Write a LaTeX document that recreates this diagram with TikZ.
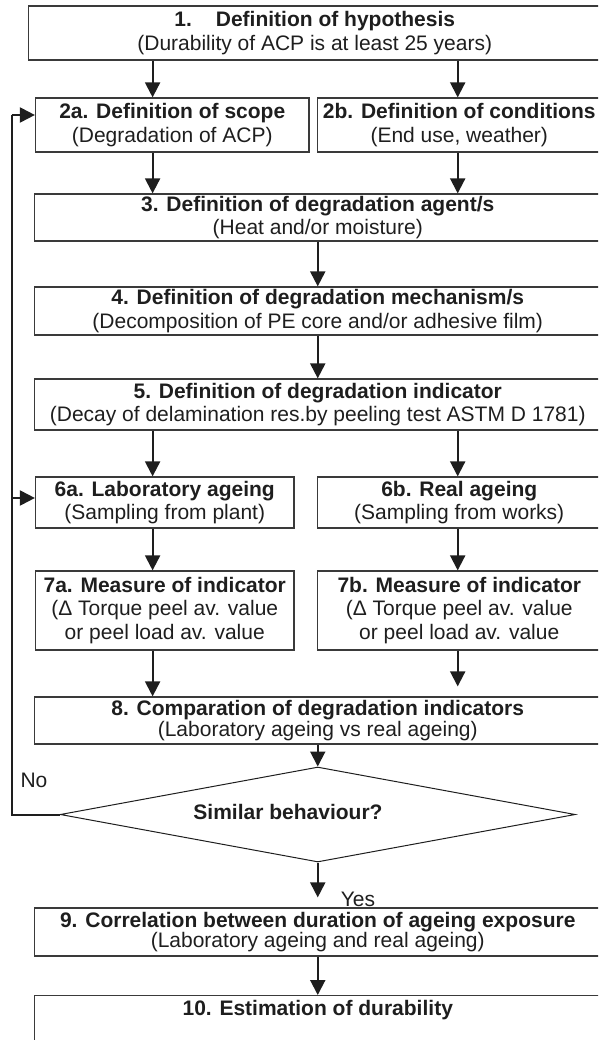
\documentclass[tikz,border=0pt]{standalone}
\usepackage{fontspec}
\setmainfont{Liberation Sans}
\usetikzlibrary{arrows.meta,shapes.geometric}
\definecolor{ink}{HTML}{1E1E1E}
\definecolor{rule}{HTML}{3A3A3A}
\begin{document}
\begin{tikzpicture}[x=1pt,y=-1pt,
  box/.style={draw=rule, line width=1.2pt, rectangle, inner sep=0pt, align=center,
    text=ink, font=\fontsize{21}{23.5}\selectfont},
  tight/.style={font=\fontsize{21}{18.5}\selectfont},
  flow/.style={draw=ink, line width=2pt, -{Triangle[width=15pt,length=15pt]}},
  wire/.style={draw=ink, line width=2pt},
  lbl/.style={text=ink, inner sep=0pt, font=\fontsize{21}{23.5}\selectfont}]
\useasboundingbox (0,0) rectangle (598,1040);
\clip (0,0) rectangle (598,1040);

% column positions of the vertical connectors
\coordinate (colL) at (152.6,0);
\coordinate (colM) at (317.75,0);
\coordinate (colR) at (457.7,0);
\coordinate (lp) at (11.5,0);

% process boxes
\node[box, minimum width=572.5pt, minimum height=54pt] (b1) at (314.75,33)
  {\textbf{1.\hspace{24pt}Definition of hypothesis}\\(Durability of ACP is at least 25 years)};
\node[box, minimum width=273.5pt, minimum height=54pt] (b2a) at (172.25,125)
  {\textbf{2a. Definition of scope}\\(Degradation of ACP)};
\node[box, minimum width=283.5pt, minimum height=54pt] (b2b) at (459.25,125)
  {\textbf{2b. Definition of conditions}\\(End use, weather)};
\node[box, minimum width=566.5pt, minimum height=47pt] (b3) at (317.75,217.5)
  {\textbf{3. Definition of degradation agent/s}\\(Heat and/or moisture)};
\node[box, minimum width=566.5pt, minimum height=48pt] (b4) at (317.75,311)
  {\textbf{4. Definition of degradation mechanism/s}\\(Decomposition of PE core and/or adhesive film)};
\node[box, minimum width=566.5pt, minimum height=51pt] (b5) at (317.75,404.5)
  {\textbf{5. Definition of degradation indicator}\\(Decay of delamination res.by peeling test ASTM D 1781)};
\node[box, minimum width=258.5pt, minimum height=51pt] (b6a) at (164.75,502.5)
  {\textbf{6a. Laboratory ageing}\\(Sampling from plant)};
\node[box, minimum width=283.5pt, minimum height=51pt] (b6b) at (459.25,502.5)
  {\textbf{6b. Real ageing}\\(Sampling from works)};
\node[box, minimum width=258.5pt, minimum height=79pt] (b7a) at (164.75,610.5)
  {\textbf{7a. Measure of indicator}\\(Δ Torque peel av. value\\or peel load av. value};
\node[box, minimum width=283.5pt, minimum height=79pt] (b7b) at (459.25,610.5)
  {\textbf{7b. Measure of indicator}\\(Δ Torque peel av. value\\or peel load av. value};
\node[box, tight, minimum width=566.5pt, minimum height=47pt] (b8) at (317.75,720.5)
  {\textbf{8. Comparation of degradation indicators}\\(Laboratory ageing vs real ageing)};
\node[draw=ink, line width=1pt, diamond, aspect=5.42, inner sep=0pt,
  minimum width=515pt, minimum height=95pt] (dia) at (317.75,814.5) {};
\node[lbl, font=\bfseries\fontsize{21}{23.5}\selectfont] (q) at (288,812) {Similar behaviour?};
\node[box, tight, minimum width=566.5pt, minimum height=48pt] (b9) at (317.75,932)
  {\textbf{9. Correlation between duration of ageing exposure}\\(Laboratory ageing and real ageing)};
\node[box, anchor=north, minimum width=566.5pt, minimum height=70pt] (b10) at (317.75,995) {};
\node[lbl, font=\bfseries\fontsize{21}{23.5}\selectfont] (t10) at (317.75,1010)
  {10. Estimation of durability};

% branch labels
\node[lbl] (no) at (34,780) {No};
\node[lbl] (yes) at (358,899) {Yes};

% connectors
\draw[flow] (b1.south -| colL) -- (b2a.north -| colL);
\draw[flow] (b1.south -| colR) -- (b2b.north -| colR);
\draw[flow] (b2a.south -| colL) -- (b3.north -| colL);
\draw[flow] (b2b.south -| colR) -- (b3.north -| colR);
\draw[flow] (b3.south -| colM) -- (b4.north -| colM);
\draw[flow] (b4.south -| colM) -- (b5.north -| colM);
\draw[flow] (b5.south -| colL) -- (b6a.north -| colL);
\draw[flow] (b5.south -| colR) -- (b6b.north -| colR);
\draw[flow] (b6a.south -| colL) -- (b7a.north -| colL);
\draw[flow] (b6b.south -| colR) -- (b7b.north -| colR);
\draw[flow] (b7a.south -| colL) -- (b8.north -| colL);
\draw[flow, shorten >=10pt] (b7b.south -| colR) -- (b8.north -| colR);
\draw[flow] (b8.south) -- (dia.north);
\draw[flow, shorten >=10pt] (dia.south) -- (b9.north);
\draw[flow] (b9.south) -- (b10.north);

% "No" feedback loop
\draw[wire] (dia.west) -- (dia.west -| lp) -- ([yshift=10pt]b2a.west -| lp);
\draw[flow] ([yshift=10pt]b2a.west -| lp) -- ([yshift=10pt]b2a.west);
\draw[flow] ([yshift=4.5pt]b6a.west -| lp) -- ([yshift=4.5pt]b6a.west);
\end{tikzpicture}
\end{document}
